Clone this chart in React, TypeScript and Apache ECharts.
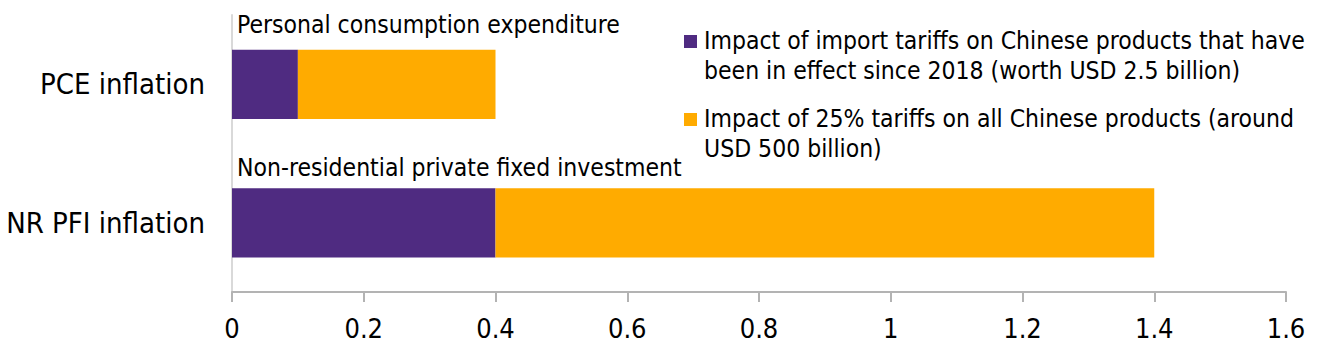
import React, { useEffect, useRef } from "react";
import * as echarts from "echarts";

const categories = ["PCE inflation", "NR PFI inflation"];
const seriesNames = [
  "Impact of import tariffs on Chinese products that have been in effect since 2018 (worth USD 2.5 billion)",
  "Impact of 25% tariffs on all Chinese products (around USD 500 billion)",
];
const legendLines = [
  ["Impact of import tariffs on Chinese products that have", "been in effect since 2018 (worth USD 2.5 billion)"],
  ["Impact of 25% tariffs on all Chinese products (around", "USD 500 billion)"],
];
const existingTariffs = [0.1, 0.4];
const allTariffs = [0.3, 1.0];
const annotations = ["Personal consumption expenditure", "Non-residential private fixed investment"];
const xTicks = { min: 0, max: 1.6, interval: 0.2 };

const colors = ["#4f2b81", "#ffab00"];
const FONT = "'DejaVu Sans Condensed', 'DejaVu Sans', sans-serif";

export default function App() {
  const ref = useRef<HTMLDivElement>(null);
  useEffect(() => {
    document.body.style.margin = "0";
    if (!ref.current) return;
    const chart = echarts.init(ref.current, null, { renderer: "svg" });
    const legendGraphics: any[] = [];
    const legendTop = [35, 113];
    legendLines.forEach((lines, i) => {
      legendGraphics.push({
        type: "rect",
        left: 684,
        top: legendTop[i],
        shape: { width: 13, height: 13 },
        style: { fill: colors[i] },
      });
      lines.forEach((ln, j) => {
        legendGraphics.push({
          type: "text",
          x: 704,
          y: legendTop[i] + 5 + j * 30,
          style: {
            text: ln,
            fill: "#000",
            font: `24.5px ${FONT}`,
            verticalAlign: "middle",
          },
        });
      });
    });
    const annY = [24, 167];
    const annGraphics = annotations.map((t, i) => ({
      type: "text",
      x: 237,
      y: annY[i],
      style: {
        text: t,
        fill: "#000",
        font: `24.5px ${FONT}`,
        verticalAlign: "middle",
      },
    }));
    chart.setOption({
      animation: false,
      textStyle: { fontFamily: FONT },
      grid: { left: 232, right: 34, top: 15, bottom: 58, containLabel: false },
      xAxis: {
        type: "value",
        min: xTicks.min,
        max: xTicks.max,
        interval: xTicks.interval,
        splitLine: { show: false },
        axisLine: { show: true, lineStyle: { color: "#b3b3b3", width: 2 } },
        axisTick: { show: true, length: 10, lineStyle: { color: "#b3b3b3", width: 2 } },
        axisLabel: { color: "#000", fontSize: 27, margin: 23, fontFamily: FONT },
      },
      yAxis: {
        type: "category",
        data: categories,
        inverse: true,
        axisLine: { show: true, lineStyle: { color: "#d9d9d9", width: 2 } },
        axisTick: { show: false },
        axisLabel: { color: "#000", fontSize: 29, margin: 27, fontFamily: FONT },
      },
      series: [
        {
          name: seriesNames[0],
          type: "bar",
          stack: "total",
          data: existingTariffs,
          barWidth: "50%",
          itemStyle: { color: colors[0] },
        },
        {
          name: seriesNames[1],
          type: "bar",
          stack: "total",
          data: allTariffs,
          barWidth: "50%",
          itemStyle: { color: colors[1] },
        },
      ],
      graphic: [...annGraphics, ...legendGraphics],
    });
    return () => chart.dispose();
  }, []);
  return <div ref={ref} style={{ width: 1320, height: 350 }} />;
}
